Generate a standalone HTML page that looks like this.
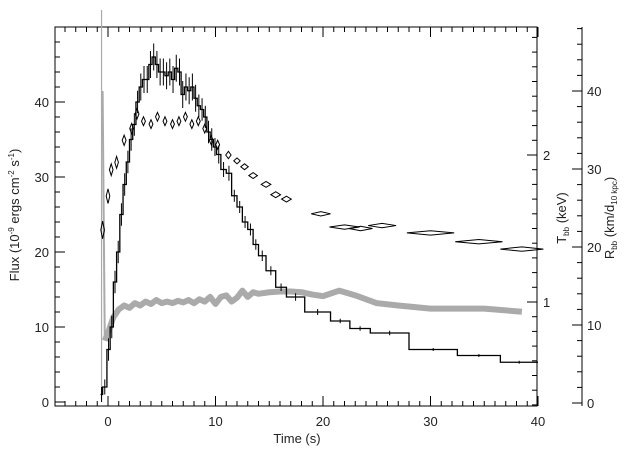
<!DOCTYPE html>
<html><head><meta charset="utf-8"><style>
body{margin:0;background:#fff}
svg{display:block;font-family:"Liberation Sans",sans-serif;}
</style></head><body>
<svg id="chart" width="640" height="457"></svg>
<script>
const fluxT=[-0.7,-0.5,-0.1,0.2,0.5,0.8,1.1,1.4,1.7,2.0,2.3,2.6,2.9,3.2,3.5,3.8,4.1,4.4,4.7,5.0,5.3,5.6,5.9,6.2,6.5,6.8,7.1,7.4,7.7,8.0,8.3,8.6,8.9,9.2,9.5,9.8,10.1,10.5,11.0,11.5,12.0,12.5,13.0,13.5,14.0,14.7,15.6,16.6,18.3,20.7,22.5,24.4,28.0,32.5,36.5,40.0];
const fluxV=[1,2,7,10,16,20,25,29,32,35,37,40,42,43,43,45,46,45,44,44,43.5,44,43,44.5,44,41,42,41.5,42,40.5,39.5,39,38,36,35,34,33,31,30.5,27.5,26,24,23,21,19.5,17.5,15.3,14,12,10.8,9.8,9.2,7,6.2,5.3,5.3];
const fluxErr=[1,1,1.5,1.5,1.5,1.5,1.5,1.5,1.5,1.5,1.5,1.5,1.8,1.8,1.8,1.8,1.8,1.8,1.8,1.8,1.8,1.8,1.8,1.8,1.8,1.8,1.8,1.8,1.8,1.8,1.5,1.5,1.5,1.5,1.5,1.2,1.2,1,1,0.8,0.8,0.8,0.8,0.7,0.7,0.6,0.5,0.5,0.4,0.3,0.3,0.3,0.2,0.2,0.2,0];
const tempT=[-0.5,0,0.3,0.8,1.5,2.2,2.7,3.3,4.0,4.6,5.3,6.0,6.6,7.2,7.8,8.4,9.0,9.6,10.2,11.2,12.0,12.7,13.5,14.7,15.6,16.6,19.8,22.0,23.5,25.5,30.0,34.5,38.5];
const tempV=[1.49,1.72,1.90,1.95,2.10,2.18,2.28,2.23,2.21,2.26,2.23,2.21,2.23,2.26,2.21,2.23,2.18,2.10,2.07,2.00,1.96,1.92,1.86,1.80,1.73,1.70,1.60,1.51,1.50,1.52,1.47,1.41,1.36];
const tempDt=[0.12,0.12,0.12,0.15,0.18,0.18,0.18,0.18,0.18,0.18,0.18,0.18,0.18,0.18,0.18,0.18,0.18,0.18,0.18,0.25,0.3,0.35,0.4,0.45,0.45,0.45,0.9,1.4,1.1,1.3,2.2,2.2,2.0];
const tempDv=[0.06,0.05,0.04,0.04,0.035,0.035,0.035,0.03,0.03,0.03,0.03,0.03,0.03,0.03,0.03,0.03,0.03,0.03,0.03,0.025,0.02,0.02,0.02,0.02,0.02,0.02,0.015,0.015,0.015,0.015,0.01,0.01,0.01];
const radT=[-0.5,-0.3,0,0.5,1,1.5,2,2.5,3,3.5,4,4.5,5,5.5,6,6.5,7,7.5,8,8.5,9,9.5,10,10.5,11,11.5,12,12.5,13,13.5,14,15,16,17,18,19,20,21.5,23,25,27,30,35,38.5];
const radV=[40,8,9,11,12,12.5,12.2,12.8,12.5,13,12.7,13.2,12.8,13,12.8,13.1,12.9,13.2,12.8,13.3,13,13.6,12.7,13.6,13.8,13,13.5,14.4,13.6,14.2,14,14.2,14.3,14.3,14.2,13.9,13.7,14.4,13.8,12.8,12.5,12.1,12.1,11.7];
const xTicks=[0,10,20,30,40], yTicks=[0,10,20,30,40], tTicks=[1,2], rTicks=[0,10,20,30,40];

const NS="http://www.w3.org/2000/svg", svg=document.getElementById('chart');
const X0=55,X1=537,Y0=27,Y1=406;
const xs=t=>108+10.75*t, ys=f=>402-7.5*f, ts=v=>449-147*v, rs=r=>403-7.8*r;
function el(tag,at,parent){const e=document.createElementNS(NS,tag);for(const k in at)e.setAttribute(k,at[k]);(parent||svg).appendChild(e);return e;}
function txt(x,y,s,extra){const e=el('text',Object.assign({x:x,y:y,'font-size':13,fill:'#222','text-anchor':'middle'},extra||{}));e.innerHTML=s;return e;}

const frame=el('rect',{x:X0,y:Y0,width:X1-X0,height:Y1-Y0,fill:'none',stroke:'#000','stroke-width':1});


for(let t=-5;t<=40;t++){const x=xs(t);if(x<X0||x>X1+1)continue;const L=(t%10===0)?10:5;
 el('line',{x1:x,y1:Y1,x2:x,y2:Y1-L,stroke:'#000'});el('line',{x1:x,y1:Y0,x2:x,y2:Y0+L,stroke:'#000'});}
xTicks.forEach(v=>{const e=txt(xs(v),426,v);});
for(let f=0;f<=50;f+=2){const y=ys(f);if(y<Y0)continue;el('line',{x1:X0,y1:y,x2:X0+(f%10===0?10:5),y2:y,stroke:'#000'});}
yTicks.forEach(v=>{const e=txt(49,ys(v)+5,v,{'text-anchor':'end'});});
for(let k=3;k<=28;k++){const v=k/10,y=ts(v);if(y<Y0||y>Y1)continue;el('line',{x1:X1,y1:y,x2:X1-(k%10===0?10:5),y2:y,stroke:'#000'});}
tTicks.forEach(v=>{const e=txt(543,ts(v)+5,v,{'text-anchor':'start'});});
const RX=582;
el('line',{x1:RX,y1:Y0,x2:RX,y2:Y1,stroke:'#000'});
for(let r=0;r<=48;r+=2){const y=rs(r);if(y<Y0)continue;el('line',{x1:RX,y1:y,x2:RX-(r%10===0?10:5),y2:y,stroke:'#000'});}
rTicks.forEach(v=>{const e=txt(587,rs(v)+5,v,{'text-anchor':'start'});});
let e=txt(297,443,'Time (s)');
e=txt(0,0,'Flux (10<tspan font-size="8" dy="-5">-9</tspan><tspan dy="5"> ergs cm</tspan><tspan font-size="8" dy="-5">-2</tspan><tspan dy="5"> s</tspan><tspan font-size="8" dy="-5">-1</tspan><tspan dy="5">)</tspan>',{transform:'translate(19,215) rotate(-90)'});

e=txt(0,0,'T<tspan font-size="8" dy="3">bb</tspan><tspan dy="-3"> (keV)</tspan>',{transform:'translate(566,218) rotate(-90)'});

e=txt(0,0,'R<tspan font-size="8" dy="3">bb</tspan><tspan dy="-3"> (km/d</tspan><tspan font-size="8" dy="3">10 kpc</tspan><tspan dy="-3">)</tspan>',{transform:'translate(614,218) rotate(-90)'});


const gl=el('line',{x1:xs(-0.6),y1:10,x2:xs(-0.6),y2:400,stroke:'#aaa','stroke-width':1.2});

const sp=el('line',{x1:xs(radT[0]),y1:rs(radV[0]),x2:xs(radT[1]),y2:rs(radV[1]),stroke:'#aaa','stroke-width':2});

const rp=el('polyline',{points:radT.slice(1).map((t,i)=>xs(t)+','+rs(radV[i+1])).join(' '),fill:'none',stroke:'#aaa','stroke-width':6,'stroke-linejoin':'round'});

let d='M'+xs(fluxT[0])+','+ys(fluxV[0]);
for(let i=1;i<fluxT.length;i++){d+=' H'+xs(fluxT[i])+' V'+ys(fluxV[i]);}
const fp=el('path',{d:d,fill:'none',stroke:'#000','stroke-width':1.3});

for(let i=0;i<fluxT.length-1;i++){const xm=(xs(fluxT[i])+xs(fluxT[i+1]))/2;
 const b=el('line',{x1:xm,y1:ys(fluxV[i]+fluxErr[i]),x2:xm,y2:ys(fluxV[i]-fluxErr[i]),stroke:'#000','stroke-width':1});
 }
tempT.forEach((t,i)=>{const cx=xs(t),cy=ts(tempV[i]),hw=Math.max(10.75*tempDt[i],1.8),hh=Math.max(147*tempDv[i],2.2);
 const p=el('polygon',{points:`${cx-hw},${cy} ${cx},${cy-hh} ${cx+hw},${cy} ${cx},${cy+hh}`,fill:'none',stroke:'#000','stroke-width':1});
 });
</script>
</body></html>
